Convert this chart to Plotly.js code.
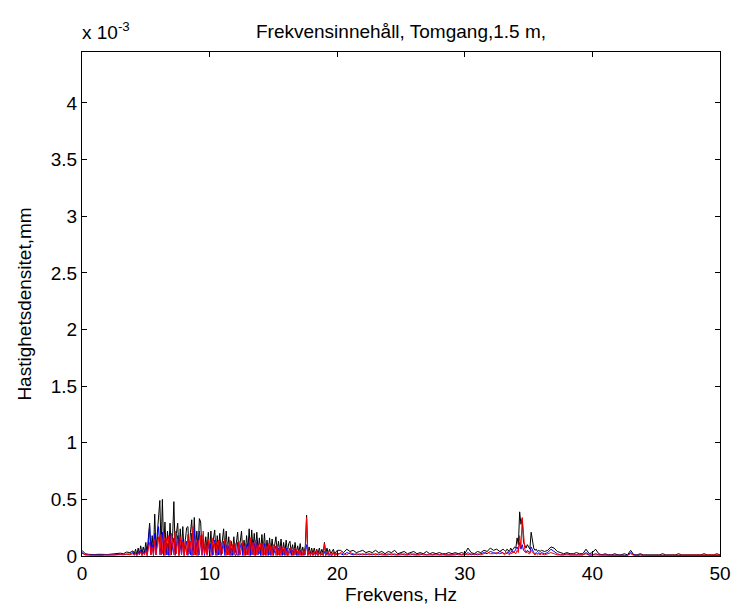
<!DOCTYPE html>
<html>
<head>
<meta charset="utf-8">
<script src="https://cdn.plot.ly/plotly-3.0.1.min.js"></script>
<style>
  html, body { margin: 0; padding: 0; background: #ffffff; }
  #chart { width: 734px; height: 610px; }
</style>
</head>
<body>
<div id="chart"></div>
<script>
// Frequency grid, Hz (segments)
const freqA = [0,0.25,0.5,0.75,1,1.25,1.5,1.75,2,2.25,2.5,2.75,3,3.25,3.5,3.75,4];
const freqB = [4.1,4.2,4.3,4.4,4.5,4.6,4.7,4.8,4.9,5.0,
  5.1,5.2,5.3,5.4,5.5,5.6,5.7,5.8,5.9,6.0,
  6.1,6.2,6.3,6.4,6.5,6.6,6.7,6.8,6.9,7.0,
  7.1,7.2,7.3,7.4,7.5,7.6,7.7,7.8,7.9,8.0,
  8.1,8.2,8.3,8.4,8.5,8.6,8.7,8.8,8.9,9.0,
  9.1,9.2,9.3,9.4,9.5,9.6,9.7,9.8,9.9,10.0,
  10.1,10.2,10.3,10.4,10.5,10.6,10.7,10.8,10.9,11.0,
  11.1,11.2,11.3,11.4,11.5,11.6,11.7,11.8,11.9,12.0,
  12.1,12.2,12.3,12.4,12.5,12.6,12.7,12.8,12.9,13.0,
  13.1,13.2,13.3,13.4,13.5,13.6,13.7,13.8,13.9,14.0,
  14.1,14.2,14.3,14.4,14.5,14.6,14.7,14.8,14.9,15.0,
  15.1,15.2,15.3,15.4,15.5,15.6,15.7,15.8,15.9,16.0,
  16.1,16.2,16.3,16.4,16.5,16.6,16.7,16.8,16.9,17.0,
  17.1,17.2,17.3,17.4,17.5,17.6,17.7,17.8,17.9,18.0,
  18.1,18.2,18.3,18.4,18.5,18.6,18.7,18.8,18.9,19.0,
  19.1,19.2,19.3,19.4,19.5,19.6,19.7,19.8,19.9,20.0];
const freqC = [20.25,20.5,20.75,21,21.25,21.5,21.75,22,22.25,22.5,22.75,23,
  23.25,23.5,23.75,24,24.25,24.5,24.75,25,25.25,25.5,25.75,26,
  26.25,26.5,26.75,27,27.25,27.5,27.75,28,28.25,28.5,28.75,29,
  29.25,29.5,29.75,30,30.25,30.5,30.75,31,31.25,31.5,31.75,32,
  32.25,32.5,32.75,33];
const freqD = [33.1,33.2,33.3,33.4,33.5,33.6,33.7,33.8,33.9,34.0,
  34.1,34.2,34.3,34.4,34.5,34.6,34.7,34.8,34.9,35.0,
  35.1,35.2,35.3,35.4,35.5,35.6,35.7,35.8,35.9,36.0];
const freqE = [36.25,36.5,36.75,37,37.25,37.5,37.75,38,38.25,38.5,38.75,39,
  39.25,39.5,39.75,40,40.25,40.5,40.75,41,41.25,41.5,41.75,42,
  42.25,42.5,42.75,43,43.25,43.5,43.75,44,44.25,44.5,44.75,45,
  45.25,45.5,45.75,46,46.25,46.5,46.75,47,47.25,47.5,47.75,48,
  48.25,48.5,48.75,49,49.25,49.5,49.75,50];

// Velocity density, units of 1e-3 mm — black series
const blackA = [0.05,0.02,0.015,0.012,0.012,0.015,0.012,0.014,0.013,0.016,0.015,0.02,0.025,0.02,0.035,0.03,0.045];
const blackB = [0.02,0.06,0.01,0.07,0.02,0.09,0.02,0.08,0.03,0.12,
  0.03,0.15,0.29,0.04,0.18,0.03,0.37,0.05,0.22,0.39,
  0.49,0.05,0.50,0.06,0.30,0.03,0.22,0.05,0.29,0.04,
  0.17,0.48,0.04,0.20,0.29,0.03,0.24,0.05,0.26,0.03,
  0.18,0.25,0.26,0.04,0.21,0.32,0.05,0.34,0.06,0.22,
  0.04,0.33,0.30,0.05,0.19,0.03,0.17,0.05,0.21,0.03,
  0.22,0.04,0.15,0.23,0.03,0.18,0.05,0.20,0.03,0.16,
  0.24,0.04,0.22,0.05,0.17,0.03,0.13,0.04,0.17,0.03,
  0.12,0.21,0.03,0.15,0.22,0.04,0.14,0.03,0.18,0.05,
  0.24,0.03,0.23,0.06,0.20,0.04,0.21,0.05,0.16,0.03,
  0.19,0.04,0.20,0.03,0.14,0.03,0.16,0.04,0.15,0.03,
  0.12,0.17,0.03,0.13,0.04,0.15,0.02,0.12,0.03,0.14,
  0.03,0.11,0.13,0.02,0.10,0.03,0.12,0.02,0.09,0.03,
  0.11,0.02,0.08,0.02,0.09,0.36,0.02,0.08,0.02,0.07,
  0.02,0.07,0.02,0.06,0.02,0.07,0.02,0.06,0.02,0.12,
  0.02,0.07,0.02,0.06,0.02,0.04,0.06,0.02,0.04,0.05];
const blackC = [0.05,0.03,0.06,0.04,0.05,0.03,0.04,0.05,0.03,0.04,0.03,0.05,
  0.03,0.04,0.02,0.04,0.03,0.05,0.02,0.03,0.04,0.02,0.03,0.04,
  0.02,0.03,0.02,0.04,0.02,0.03,0.02,0.03,0.02,0.02,0.03,0.02,
  0.03,0.02,0.03,0.02,0.07,0.03,0.02,0.04,0.03,0.05,0.04,0.07,
  0.05,0.06,0.04,0.06];
const blackD = [0.05,0.04,0.06,0.05,0.04,0.07,0.05,0.06,0.08,0.07,
  0.16,0.10,0.39,0.28,0.33,0.12,0.09,0.07,0.10,0.08,
  0.06,0.21,0.12,0.07,0.05,0.06,0.04,0.05,0.04,0.05];
const blackE = [0.04,0.05,0.08,0.07,0.04,0.03,0.02,0.03,0.02,0.02,0.03,0.02,
  0.02,0.06,0.02,0.03,0.06,0.02,0.01,0.02,0.01,0.01,0.02,0.01,
  0.01,0.02,0.01,0.05,0.01,0.01,0.02,0.01,0.01,0.01,0.01,0.01,
  0.01,0.02,0.01,0.01,0.01,0.01,0.02,0.01,0.01,0.01,0.01,0.01,
  0.01,0.01,0.02,0.01,0.01,0.01,0.02,0.01];

// Blue series
const blueA = [0.03,0.012,0.01,0.008,0.01,0.009,0.008,0.01,0.009,0.011,0.01,0.013,0.015,0.012,0.02,0.018,0.03];
const blueB = [0.01,0.03,0.005,0.04,0.01,0.05,0.005,0.04,0.01,0.07,
  0.005,0.09,0.27,0.01,0.10,0.005,0.20,0.01,0.13,0.26,
  0.10,0.01,0.21,0.005,0.14,0.01,0.11,0.005,0.19,0.01,
  0.08,0.16,0.005,0.12,0.18,0.005,0.10,0.01,0.14,0.005,
  0.09,0.13,0.005,0.11,0.01,0.20,0.005,0.24,0.01,0.12,
  0.005,0.22,0.10,0.01,0.12,0.005,0.09,0.01,0.13,0.005,
  0.11,0.005,0.08,0.14,0.005,0.10,0.01,0.12,0.005,0.09,
  0.13,0.005,0.10,0.01,0.09,0.005,0.07,0.005,0.10,0.005,
  0.01,0.12,0.005,0.08,0.11,0.005,0.07,0.005,0.10,0.01,
  0.12,0.005,0.14,0.01,0.11,0.005,0.12,0.01,0.08,0.005,
  0.10,0.005,0.11,0.005,0.07,0.005,0.09,0.005,0.08,0.005,
  0.06,0.09,0.005,0.07,0.005,0.08,0.005,0.06,0.005,0.07,
  0.005,0.05,0.07,0.005,0.05,0.005,0.06,0.005,0.04,0.005,
  0.05,0.005,0.03,0.005,0.04,0.10,0.005,0.04,0.005,0.03,
  0.005,0.03,0.005,0.03,0.005,0.03,0.005,0.02,0.005,0.04,
  0.005,0.03,0.005,0.02,0.005,0.01,0.03,0.005,0.01,0.02];
const blueC = [0.02,0.01,0.03,0.02,0.01,0.02,0.01,0.02,0.01,0.02,0.01,0.02,
  0.01,0.02,0.01,0.01,0.02,0.01,0.01,0.02,0.01,0.01,0.02,0.01,
  0.01,0.01,0.02,0.01,0.01,0.01,0.02,0.01,0.01,0.01,0.01,0.01,
  0.01,0.02,0.01,0.01,0.03,0.01,0.02,0.01,0.02,0.03,0.02,0.04,
  0.03,0.02,0.04,0.03];
const blueD = [0.02,0.03,0.02,0.04,0.02,0.03,0.05,0.03,0.04,0.06,
  0.08,0.05,0.12,0.06,0.10,0.05,0.04,0.03,0.05,0.04,
  0.03,0.08,0.05,0.03,0.02,0.03,0.02,0.03,0.02,0.03];
const blueE = [0.02,0.03,0.06,0.04,0.02,0.01,0.01,0.02,0.01,0.01,0.01,0.01,
  0.01,0.03,0.01,0.01,0.02,0.01,0.01,0.01,0.01,0.005,0.01,0.005,
  0.005,0.01,0.005,0.03,0.01,0.005,0.01,0.005,0.005,0.005,0.01,0.005,
  0.005,0.01,0.005,0.005,0.01,0.005,0.005,0.005,0.01,0.005,0.005,0.005,
  0.005,0.005,0.01,0.005,0.005,0.005,0.01,0.005];

// Red series
const redA = [0.025,0.01,0.008,0.006,0.008,0.007,0.006,0.008,0.007,0.009,0.008,0.01,0.012,0.01,0.015,0.012,0.02];
const redB = [0.005,0.02,0.005,0.03,0.01,0.04,0.005,0.03,0.01,0.05,
  0.005,0.06,0.12,0.01,0.08,0.005,0.15,0.01,0.10,0.17,
  0.01,0.19,0.02,0.21,0.005,0.16,0.01,0.18,0.005,0.20,
  0.12,0.01,0.22,0.02,0.15,0.005,0.17,0.01,0.13,0.005,
  0.15,0.01,0.19,0.02,0.13,0.005,0.26,0.01,0.16,0.005,
  0.14,0.01,0.18,0.005,0.22,0.02,0.12,0.005,0.15,0.01,
  0.005,0.16,0.01,0.11,0.13,0.005,0.14,0.01,0.12,0.02,
  0.09,0.15,0.005,0.12,0.01,0.14,0.005,0.10,0.01,0.11,
  0.02,0.005,0.13,0.01,0.08,0.12,0.005,0.11,0.01,0.09,
  0.005,0.16,0.01,0.12,0.005,0.14,0.01,0.10,0.02,0.11,
  0.005,0.12,0.01,0.10,0.005,0.11,0.01,0.09,0.005,0.10,
  0.08,0.005,0.10,0.01,0.09,0.005,0.08,0.01,0.07,0.005,
  0.06,0.005,0.05,0.08,0.005,0.07,0.01,0.06,0.005,0.05,
  0.005,0.06,0.005,0.05,0.01,0.34,0.005,0.05,0.005,0.04,
  0.005,0.04,0.005,0.05,0.005,0.04,0.01,0.03,0.005,0.11,
  0.005,0.02,0.04,0.005,0.03,0.005,0.04,0.005,0.03,0.005];
const redC = [0.03,0.02,0.01,0.03,0.02,0.01,0.02,0.01,0.02,0.01,0.02,0.01,
  0.02,0.01,0.01,0.02,0.01,0.02,0.01,0.01,0.02,0.01,0.01,0.02,
  0.01,0.02,0.01,0.01,0.02,0.01,0.01,0.01,0.02,0.01,0.01,0.01,
  0.02,0.01,0.01,0.02,0.01,0.02,0.01,0.02,0.01,0.02,0.04,0.02,
  0.02,0.03,0.02,0.03];
const redD = [0.01,0.02,0.03,0.02,0.01,0.03,0.02,0.04,0.03,0.02,
  0.05,0.03,0.18,0.08,0.34,0.22,0.06,0.03,0.04,0.02,
  0.02,0.05,0.03,0.02,0.01,0.02,0.01,0.02,0.01,0.02];
const redE = [0.01,0.02,0.03,0.02,0.01,0.01,0.01,0.01,0.01,0.005,0.01,0.005,
  0.01,0.02,0.005,0.01,0.01,0.005,0.005,0.005,0.005,0.005,0.005,0.005,
  0.005,0.01,0.005,0.02,0.005,0.005,0.01,0.005,0.005,0.005,0.005,0.005,
  0.005,0.005,0.01,0.005,0.005,0.005,0.005,0.01,0.005,0.005,0.005,0.005,
  0.005,0.01,0.005,0.005,0.005,0.005,0.005,0.01];

const yTickVals = [0,0.5,1,1.5,2,2.5,3,3.5,4];
const yTickText = ['0','0.5','1','1.5','2','2.5','3','3.5','4'];
const xTickVals = [0,10,20,30,40,50];

const freq = [].concat(freqA, freqB, freqC, freqD, freqE);
const black = [].concat(blackA, blackB, blackC, blackD, blackE);
const blue = [].concat(blueA, blueB, blueC, blueD, blueE);
const red = [].concat(redA, redB, redC, redD, redE);

const FONT = 'Liberation Sans, Arial, Helvetica, sans-serif';
const FS = 19;

const traces = [
  {x: freq, y: black, type: 'scatter', mode: 'lines', line: {color: '#000000', width: 1}, hoverinfo: 'x+y'},
  {x: freq, y: blue, type: 'scatter', mode: 'lines', line: {color: '#0000ff', width: 1}, hoverinfo: 'x+y'},
  {x: freq, y: red, type: 'scatter', mode: 'lines', line: {color: '#ff0000', width: 1}, hoverinfo: 'x+y'}
];

const axisCommon = {
  showline: true, linecolor: '#000000', linewidth: 1, mirror: 'ticks',
  ticks: 'inside', ticklen: 5, tickwidth: 1, tickcolor: '#000000',
  showgrid: false, zeroline: false,
  tickfont: {family: FONT, size: FS, color: '#000000'}
};

const layout = {
  width: 734, height: 610,
  paper_bgcolor: '#ffffff', plot_bgcolor: '#ffffff',
  showlegend: false,
  margin: {l: 82, r: 14, t: 52, b: 54},
  title: {text: 'Frekvensinnehåll, Tomgang,1.5 m,', font: {family: FONT, size: FS, color: '#000000'},
          x: 0.5, xref: 'paper', y: 0.949, yref: 'container', yanchor: 'middle'},
  xaxis: Object.assign({}, axisCommon, {
    range: [0, 50], tickvals: xTickVals, ticktext: xTickVals.map(String),
    title: {text: 'Frekvens, Hz', font: {family: FONT, size: FS, color: '#000000'}, standoff: 4}
  }),
  yaxis: Object.assign({}, axisCommon, {
    range: [0, 4.45], tickvals: yTickVals, ticktext: yTickText,
    title: {text: 'Hastighetsdensitet,mm', font: {family: FONT, size: FS, color: '#000000'}, standoff: 14}
  }),
  annotations: [{
    text: 'x 10<sup>-3</sup>', xref: 'paper', yref: 'paper', x: 0, y: 1, xanchor: 'left', yanchor: 'bottom',
    yshift: 7, xshift: -2, showarrow: false, font: {family: FONT, size: FS, color: '#000000'}
  }]
};

Plotly.newPlot('chart', traces, layout, {displayModeBar: false, staticPlot: true});
</script>
</body>
</html>
